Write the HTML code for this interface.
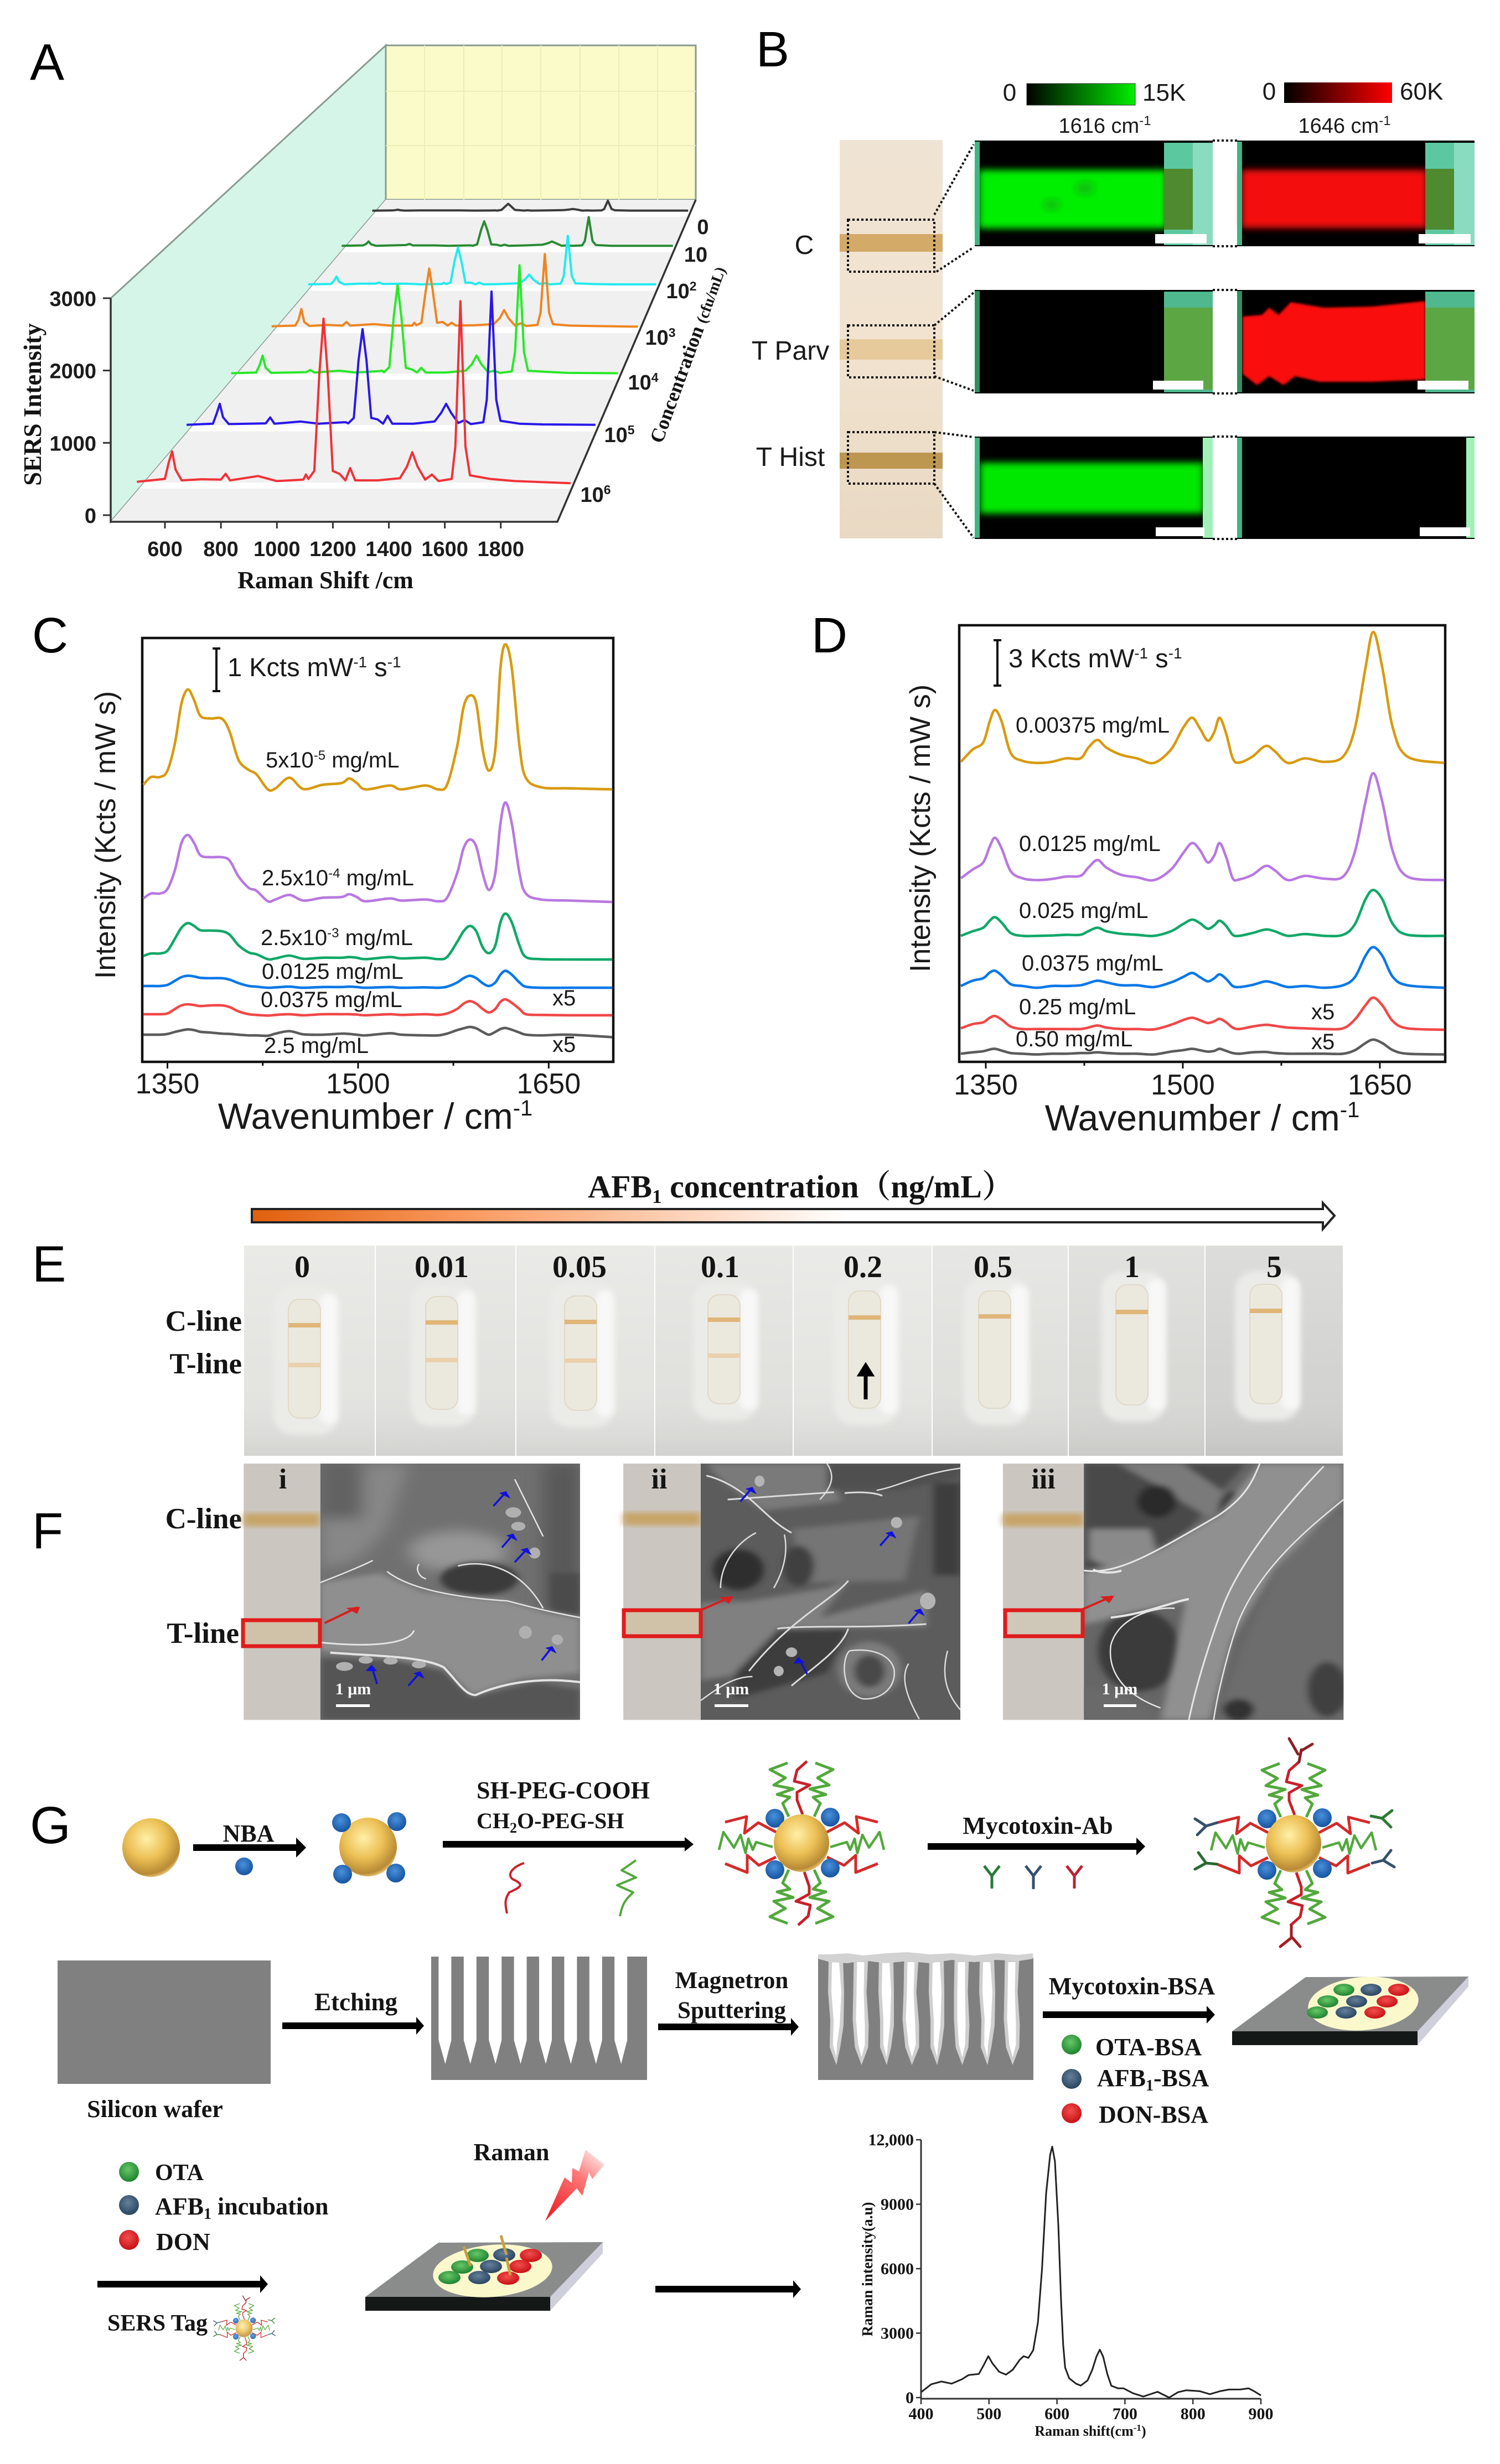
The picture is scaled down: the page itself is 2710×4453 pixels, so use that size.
<!DOCTYPE html>
<html lang="en">
<head>
<meta charset="utf-8">
<title>SERS lateral flow assay composite figure</title>
<style>
html,body{margin:0;padding:0;background:#fff;}
svg{display:block;}
.s{font-family:"Liberation Sans",Arial,sans-serif;fill:#1a1a1a;}
.sb{font-family:"Liberation Sans",Arial,sans-serif;font-weight:bold;fill:#1c1c1c;}
.r{font-family:"Liberation Serif","Noto Serif CJK SC",serif;font-weight:bold;fill:#141414;}
.let{font-family:"Liberation Sans",Arial,sans-serif;fill:#000;}
</style>
</head>
<body>
<svg id="fig" xmlns="http://www.w3.org/2000/svg" width="2710" height="4453" viewBox="0 0 2710 4453">
<defs>
  <filter id="b2" x="-20%" y="-20%" width="140%" height="140%"><feGaussianBlur stdDeviation="2"/></filter>
  <filter id="b5" x="-30%" y="-20%" width="160%" height="140%"><feGaussianBlur stdDeviation="5"/></filter>
  <filter id="b6" x="-20%" y="-30%" width="140%" height="160%"><feGaussianBlur stdDeviation="6"/></filter>
  <filter id="f1" x="-20%" y="-20%" width="140%" height="140%"><feGaussianBlur stdDeviation="5 14"/></filter>
  <filter id="f2" x="-20%" y="-20%" width="140%" height="140%"><feGaussianBlur stdDeviation="12 34"/></filter>
  <linearGradient id="gbar"><stop offset="0" stop-color="#000"/><stop offset="1" stop-color="#00f000"/></linearGradient>
  <linearGradient id="rbar"><stop offset="0" stop-color="#000"/><stop offset="1" stop-color="#ff0000"/></linearGradient>
  <linearGradient id="stripB" x1="0" y1="0" x2="0" y2="1"><stop offset="0" stop-color="#efe3d3"/><stop offset=".5" stop-color="#f1e3d0"/><stop offset="1" stop-color="#e9d9c3"/></linearGradient>
  <linearGradient id="afb"><stop offset="0" stop-color="#e0600c"/><stop offset=".2" stop-color="#fb9a60"/><stop offset=".55" stop-color="#fff"/><stop offset="1" stop-color="#fff"/></linearGradient>
  <linearGradient id="tileShade" x1="0" y1="0" x2="0" y2="1"><stop offset="0" stop-color="#fff" stop-opacity=".22"/><stop offset=".6" stop-color="#fff" stop-opacity="0"/><stop offset="1" stop-color="#000" stop-opacity=".07"/></linearGradient>
  <linearGradient id="bolt" x1=".8" y1="0" x2=".1" y2="1"><stop offset="0" stop-color="#fde2e2"/><stop offset=".35" stop-color="#f77"/><stop offset="1" stop-color="#ea1c24"/></linearGradient>
  <radialGradient id="gold" cx=".42" cy=".35" r=".68"><stop offset="0" stop-color="#fff0a8"/><stop offset=".5" stop-color="#ecc055"/><stop offset=".88" stop-color="#b88a35"/><stop offset="1" stop-color="#f0cf80"/></radialGradient>
  <radialGradient id="dblue" cx=".45" cy=".38" r=".65"><stop offset="0" stop-color="#4a90dc"/><stop offset="1" stop-color="#12509c"/></radialGradient>
  <radialGradient id="dgreen" cx=".45" cy=".38" r=".65"><stop offset="0" stop-color="#68c868"/><stop offset="1" stop-color="#1a7f2c"/></radialGradient>
  <radialGradient id="dnavy" cx=".45" cy=".38" r=".65"><stop offset="0" stop-color="#64809c"/><stop offset="1" stop-color="#26425c"/></radialGradient>
  <radialGradient id="dred" cx=".45" cy=".38" r=".65"><stop offset="0" stop-color="#f05050"/><stop offset="1" stop-color="#c80c10"/></radialGradient>
  <clipPath id="semI"><rect x="116" y="45" width="366" height="1390"/></clipPath>
  <clipPath id="semII"><rect x="652" y="45" width="366" height="1390"/></clipPath>
  <clipPath id="semIII"><rect x="1192" y="45" width="366" height="1390"/></clipPath>

  <g id="arm-v">
    <path d="M-25-145L-57-133-29-118-50-105-15-98-44-88-21-83-34-72-23-48" fill="none" stroke="#52a83c" stroke-width="5" stroke-linejoin="round"/>
  </g>
  <g id="arm-h">
    <path d="M-46-20L-78-37-103-18-99-48-138-38" fill="none" stroke="#d42a2a" stroke-width="5" stroke-linejoin="round"/>
    <path d="M-46 25L-77 40-98 22-98 53-138 37" fill="none" stroke="#d42a2a" stroke-width="5" stroke-linejoin="round"/>
    <path d="M-52 7L-82-2-88 12-96-8-101 18-110-15-122 8-141-20-149 12" fill="none" stroke="#52a83c" stroke-width="4.5" stroke-linejoin="round"/>
  </g>
  <g id="conj">
    <use href="#arm-v"/><use href="#arm-v" transform="scale(-1,1)"/>
    <use href="#arm-v" transform="scale(1,-1)"/><use href="#arm-v" transform="scale(-1,-1)"/>
    <use href="#arm-h"/><use href="#arm-h" transform="scale(-1,1)"/>
    <path d="M2-52L-8-78-8-92 15-105-13-112-8-132 10-148" fill="none" stroke="#c8202a" stroke-width="5" stroke-linejoin="round"/>
    <path d="M5 52L14 78 14 92-10 105 16 112 12 132-6 148" fill="none" stroke="#c8202a" stroke-width="5" stroke-linejoin="round"/>
    <circle cx="-48" cy="-45" r="17" fill="url(#dblue)"/><circle cx="52" cy="-47" r="17" fill="url(#dblue)"/>
    <circle cx="-48" cy="48" r="17" fill="url(#dblue)"/><circle cx="52" cy="45" r="17" fill="url(#dblue)"/>
    <ellipse cx="0" cy="0" rx="50" ry="52" fill="url(#gold)"/>
  </g>
  <g id="antibodies" fill="none" stroke-width="5" stroke-linecap="round">
    <path d="M10-148L14-170M8-162L-8-190M14-168L34-180" stroke="#8a1f24"/>
    <path d="M-4 148L-4 170M-4 170L-24 186M-2 170L12 186" stroke="#a51c22"/>
    <path d="M-138-38L-158-32M-158-32L-178-45M-158-32L-174-16" stroke="#34506e"/>
    <path d="M-138 37L-158 35M-158 35L-172 16M-158 35L-178 46" stroke="#2a6a30"/>
    <path d="M140-50L160-46M160-46L178-60M160-46L176-30" stroke="#2a7a30"/>
    <path d="M142 35L162 30M162 30L176 12M162 30L182 42" stroke="#34506e"/>
  </g>
</defs>
<rect width="2710" height="4453" fill="#fff"/>

<!-- PANEL A -->
<g id="panelA">
  <text class="let" x="54" y="144" font-size="93">A</text>
  <polygon points="697,82 697,361 200,943 200,539" fill="#d4f5e7" stroke="#8a9a92" stroke-width="3"/>
  <rect x="697" y="82" width="560" height="279" fill="#fbfbc9" stroke="#8a9a92" stroke-width="3"/>
  <path d="M767 82V361M838 82V361M907 82V361M977 82V361M1048 82V361M1118 82V361M1188 82V361M697 165H1257M697 263H1257" stroke="#ecedb8" stroke-width="2" fill="none"/>
  <polygon points="697,361 1257,361 1007,943 200,943" fill="#f0f0f0"/>
  <g id="aBands"></g>
  <g id="aSeries"></g>
  <path d="M200 539V943H1007L1257 361" fill="none" stroke="#333" stroke-width="3.5"/>
  <g id="aAxes"></g>
  <text class="r" x="588" y="1063" font-size="44" text-anchor="middle">Raman Shift /cm</text>
  <text class="r" transform="translate(74,731) rotate(-90)" font-size="45" text-anchor="middle">SERS Intensity</text>
  <text class="r" transform="translate(1196,803) rotate(-70)" font-size="36">Concentration <tspan font-size="28">(cfu/mL)</tspan></text>
  <g class="sb" font-size="38" text-anchor="middle">
    <text class="sb" x="1270" y="423">0</text>
    <text class="sb" x="1257" y="473">10</text>
    <text class="sb" x="1231" y="539">10<tspan font-size="23" dy="-14">2</tspan></text>
    <text class="sb" x="1193" y="623">10<tspan font-size="23" dy="-14">3</tspan></text>
    <text class="sb" x="1162" y="704">10<tspan font-size="23" dy="-14">4</tspan></text>
    <text class="sb" x="1119" y="799">10<tspan font-size="23" dy="-14">5</tspan></text>
    <text class="sb" x="1076" y="907">10<tspan font-size="23" dy="-14">6</tspan></text>
  </g>
</g>

<!-- PANEL B -->
<g id="panelB">
  <text class="let" x="1366" y="120" font-size="90">B</text>
  <text class="s" x="1824" y="182" font-size="44" text-anchor="middle">0</text>
  <rect x="1855" y="151" width="196" height="39" fill="url(#gbar)" stroke="#333" stroke-width="1"/>
  <text class="s" x="2064" y="182" font-size="44">15K</text>
  <text class="s" x="2293" y="180" font-size="44" text-anchor="middle">0</text>
  <rect x="2320" y="149" width="195" height="37" fill="url(#rbar)"/>
  <text class="s" x="2529" y="180" font-size="44">60K</text>
  <text class="s" x="1996" y="240" font-size="38" text-anchor="middle">1616 cm<tspan font-size="24" dy="-14">-1</tspan></text>
  <text class="s" x="2429" y="240" font-size="38" text-anchor="middle">1646 cm<tspan font-size="24" dy="-14">-1</tspan></text>

  <rect x="1517" y="253" width="186" height="720" fill="url(#stripB)"/>
  <rect x="1517" y="423" width="186" height="32" fill="#d4aa68"/>
  <rect x="1517" y="613" width="186" height="37" fill="#e6ca9c"/>
  <rect x="1517" y="818" width="186" height="29" fill="#bd9650"/>
  <g fill="none" stroke="#111" stroke-width="4" stroke-dasharray="4 4">
    <rect x="1532" y="397" width="156" height="94"/>
    <rect x="1532" y="588" width="156" height="94"/>
    <rect x="1532" y="781" width="156" height="93"/>
    <path d="M1688 388L1759 261M1692 491L1759 447M1688 588L1759 529M1688 680L1759 706M1688 781L1759 790M1688 874L1759 972M2191 254H2235M2191 445H2235M2191 524H2235M2191 711H2235M2191 789H2235M2191 974H2235"/>
  </g>
  <text class="s" x="1453" y="459" font-size="48" text-anchor="middle">C</text>
  <text class="s" x="1428" y="650" font-size="48" text-anchor="middle">T Parv</text>
  <text class="s" x="1428" y="842" font-size="48" text-anchor="middle">T Hist</text>

  <g>
    <rect x="1761" y="254" width="430" height="191" fill="#000"/>
    <rect x="1768" y="307" width="340" height="106" fill="#05ee05" filter="url(#b6)"/>
    <ellipse cx="1960" cy="340" rx="18" ry="12" fill="#0cc40c" filter="url(#b6)"/>
    <ellipse cx="1900" cy="370" rx="16" ry="10" fill="#0cc40c" filter="url(#b6)"/>
    <rect x="1761" y="256" width="9" height="187" fill="#3fb584"/>
    <rect x="2103" y="258" width="88" height="185" fill="#5cc8a0"/>
    <rect x="2155" y="258" width="36" height="185" fill="#8adcc0"/>
    <rect x="2103" y="305" width="52" height="110" fill="#4f8a30"/>
    <rect x="2087" y="423" width="93" height="17" fill="#fff"/>
  </g>
  <g>
    <rect x="2235" y="254" width="429" height="191" fill="#000"/>
    <rect x="2243" y="307" width="335" height="105" fill="#f40a0a" filter="url(#b6)"/>
    <rect x="2235" y="256" width="9" height="187" fill="#3fb584"/>
    <rect x="2575" y="258" width="89" height="185" fill="#5cc8a0"/>
    <rect x="2627" y="258" width="37" height="185" fill="#8adcc0"/>
    <rect x="2575" y="305" width="52" height="110" fill="#4f8a30"/>
    <rect x="2563" y="423" width="94" height="17" fill="#fff"/>
  </g>
  <g>
    <rect x="1761" y="524" width="430" height="187" fill="#000"/>
    <rect x="1761" y="526" width="9" height="183" fill="#2f8f60"/>
    <rect x="2103" y="527" width="88" height="182" fill="#4fb88e"/>
    <rect x="2103" y="556" width="88" height="148" fill="#5da644"/>
    <rect x="2083" y="688" width="91" height="16" fill="#fff"/>
  </g>
  <g>
    <rect x="2235" y="524" width="429" height="187" fill="#000"/>
    <polygon points="2245,572 2280,569 2293,556 2310,569 2332,546 2392,556 2479,554 2575,544 2575,686 2479,690 2384,690 2340,680 2319,696 2293,680 2271,696 2245,676" fill="#fa0808" filter="url(#b2)"/>
    <rect x="2235" y="526" width="9" height="183" fill="#2f8f60"/>
    <rect x="2575" y="527" width="89" height="182" fill="#4fb88e"/>
    <rect x="2575" y="556" width="89" height="148" fill="#5da644"/>
    <rect x="2561" y="688" width="92" height="16" fill="#fff"/>
  </g>
  <g>
    <rect x="1761" y="789" width="430" height="185" fill="#000"/>
    <rect x="1770" y="836" width="404" height="92" fill="#06e806" filter="url(#b6)"/>
    <rect x="1761" y="791" width="9" height="181" fill="#3fb584"/>
    <rect x="2173" y="791" width="18" height="181" fill="#a0f0b8"/>
    <rect x="2088" y="953" width="88" height="16" fill="#fff"/>
  </g>
  <g>
    <rect x="2235" y="789" width="429" height="185" fill="#000"/>
    <rect x="2235" y="791" width="9" height="181" fill="#3fb584"/>
    <rect x="2649" y="791" width="15" height="181" fill="#a0f0b8"/>
    <rect x="2565" y="953" width="91" height="16" fill="#fff"/>
  </g>
</g>

<!-- PANEL C -->
<g id="panelC">
  <text class="let" x="58" y="1179" font-size="90">C</text>
  <rect x="257" y="1153" width="851" height="766" fill="#fff" stroke="#111" stroke-width="4.5"/>
  <g id="cSeries"></g>
  <g id="cAxis"></g>
  <path d="M391 1172V1249M384 1172H398M384 1249H398" stroke="#111" stroke-width="4" fill="none"/>
  <text class="s" x="411" y="1222" font-size="47">1 Kcts mW<tspan font-size="28" dy="-16">-1</tspan><tspan dy="16"> s</tspan><tspan font-size="28" dy="-16">-1</tspan></text>
  <text class="s" x="678" y="2040" font-size="66" text-anchor="middle">Wavenumber / cm<tspan font-size="40" dy="-24">-1</tspan></text>
  <text class="s" transform="translate(208,1509) rotate(-90)" font-size="52" text-anchor="middle">Intensity (Kcts / mW s)</text>
  <g font-size="40">
    <text class="s" x="480" y="1387">5x10<tspan font-size="24" dy="-14">-5</tspan><tspan dy="14"> mg/mL</tspan></text>
    <text class="s" x="473" y="1600">2.5x10<tspan font-size="24" dy="-14">-4</tspan><tspan dy="14"> mg/mL</tspan></text>
    <text class="s" x="471" y="1708">2.5x10<tspan font-size="24" dy="-14">-3</tspan><tspan dy="14"> mg/mL</tspan></text>
    <text class="s" x="473" y="1769">0.0125 mg/mL</text>
    <text class="s" x="471" y="1820">0.0375 mg/mL</text>
    <text class="s" x="477" y="1903">2.5 mg/mL</text>
    <text class="s" x="998" y="1817">x5</text>
    <text class="s" x="998" y="1901">x5</text>
  </g>
</g>

<!-- PANEL D -->
<g id="panelD">
  <text class="let" x="1466" y="1179" font-size="90">D</text>
  <rect x="1733" y="1130" width="878" height="789" fill="#fff" stroke="#111" stroke-width="4.5"/>
  <g id="dSeries"></g>
  <g id="dAxis"></g>
  <path d="M1802 1157V1239M1795 1157H1809M1795 1239H1809" stroke="#111" stroke-width="4" fill="none"/>
  <text class="s" x="1822" y="1206" font-size="47">3 Kcts mW<tspan font-size="28" dy="-16">-1</tspan><tspan dy="16"> s</tspan><tspan font-size="28" dy="-16">-1</tspan></text>
  <text class="s" x="2172" y="2043" font-size="66" text-anchor="middle">Wavenumber / cm<tspan font-size="40" dy="-24">-1</tspan></text>
  <text class="s" transform="translate(1680,1497) rotate(-90)" font-size="52" text-anchor="middle">Intensity (Kcts / mW s)</text>
  <g font-size="40">
    <text class="s" x="1835" y="1324">0.00375 mg/mL</text>
    <text class="s" x="1841" y="1538">0.0125 mg/mL</text>
    <text class="s" x="1841" y="1659">0.025 mg/mL</text>
    <text class="s" x="1846" y="1754">0.0375 mg/mL</text>
    <text class="s" x="1841" y="1833">0.25 mg/mL</text>
    <text class="s" x="1835" y="1891">0.50 mg/mL</text>
    <text class="s" x="2369" y="1842">x5</text>
    <text class="s" x="2369" y="1896">x5</text>
  </g>
</g>

<!-- PANEL E -->
<g id="panelE">
  <text class="r" x="1447" y="2164" font-size="58" text-anchor="middle">AFB<tspan font-size="35" dy="10">1</tspan><tspan dy="-10"> concentration（ng/mL）</tspan></text>
  <path d="M455 2185H2390V2174L2411 2197 2390 2221V2209H455Z" fill="url(#afb)" stroke="#222" stroke-width="4"/>
  <text class="let" x="58" y="2316" font-size="92">E</text>
  <g id="eTiles"></g>
  <path d="M1564 2529V2480M1554 2484L1564 2468 1574 2484Z" stroke="#000" stroke-width="7" fill="#000"/>
  <g font-size="56" text-anchor="middle">
    <text class="r" x="546" y="2308">0</text>
    <text class="r" x="798" y="2308">0.01</text>
    <text class="r" x="1047" y="2308">0.05</text>
    <text class="r" x="1301" y="2308">0.1</text>
    <text class="r" x="1559" y="2308">0.2</text>
    <text class="r" x="1794" y="2308">0.5</text>
    <text class="r" x="2045" y="2308">1</text>
    <text class="r" x="2302" y="2308">5</text>
  </g>
  <text class="r" x="437" y="2405" font-size="53" text-anchor="end">C-line</text>
  <text class="r" x="437" y="2482" font-size="53" text-anchor="end">T-line</text>
</g>

<!-- PANEL F -->
<g id="panelF">
  <text class="let" x="58" y="2798" font-size="92">F</text>
  <text class="r" x="437" y="2762" font-size="53" text-anchor="end">C-line</text>
  <text class="r" x="432" y="2969" font-size="53" text-anchor="end">T-line</text>
  <g transform="translate(430,2630) scale(1.282,.3333)">
    <g>
      <rect x="8" y="45" width="108" height="1390" fill="#cbc7c0"/>
      <rect x="8" y="315" width="108" height="70" fill="#c8a468" filter="url(#f1)"/>
      <rect x="8" y="890" width="108" height="145" fill="#d0c2a8"/>
    </g>
    <g>
      <rect x="543" y="45" width="109" height="1390" fill="#cbc7c0"/>
      <rect x="543" y="310" width="109" height="70" fill="#c8a468" filter="url(#f1)"/>
      <rect x="543" y="835" width="109" height="150" fill="#d0c2a8"/>
    </g>
    <g>
      <rect x="1078" y="45" width="114" height="1390" fill="#cbc7c0"/>
      <rect x="1078" y="315" width="114" height="70" fill="#c8a468" filter="url(#f1)"/>
      <rect x="1078" y="835" width="114" height="150" fill="#cfc8b8"/>
    </g>

    <g clip-path="url(#semI)">
      <rect x="116" y="45" width="366" height="1390" fill="#707070"/>
      <g filter="url(#f2)">
        <polygon points="116,45 240,45 210,400 170,560 116,620" fill="#878787"/>
        <ellipse cx="310" cy="520" rx="70" ry="110" fill="#979797"/>
        <rect x="430" y="45" width="52" height="800" fill="#585858"/>
        <rect x="116" y="45" width="60" height="300" fill="#626262"/>
      </g>
      <g filter="url(#f1)">
        <polygon points="116,690 200,640 260,740 380,790 430,850 482,880 482,1180 400,1210 330,1300 290,1150 220,1100 116,1060" fill="#8f8f8f"/>
        <polygon points="116,1100 220,1110 290,1170 330,1310 420,1230 482,1270 482,1435 116,1435" fill="#555"/>
        <ellipse cx="340" cy="670" rx="55" ry="90" fill="#3a3a3a"/>
        <polygon points="440,640 482,640 482,880 440,840" fill="#4c4c4c"/>
      </g>
      <g fill="none" stroke="#e4e4e4">
        <path vector-effect="non-scaling-stroke" stroke-width="3" d="M116 1015C180 1040 240 1030 248 950"/>
        <path vector-effect="non-scaling-stroke" stroke-width="4" d="M130 1070C200 1090 260 1090 290 1150 310 1230 320 1300 335 1300 370 1240 420 1200 482 1230"/>
        <path vector-effect="non-scaling-stroke" stroke-width="2.5" d="M116 690C150 640 180 590 190 570M210 630C240 720 300 770 380 790 420 830 440 850 482 880"/>
        <path vector-effect="non-scaling-stroke" stroke-width="2.5" d="M390 130L430 440M310 600C350 560 400 620 430 830M255 590C250 620 255 660 265 670"/>
      </g>
      <g fill="#b0b0b0">
        <ellipse cx="388" cy="310" rx="11" ry="28"/><ellipse cx="395" cy="385" rx="10" ry="24"/><ellipse cx="418" cy="530" rx="8" ry="30"/>
        <ellipse cx="405" cy="960" rx="9" ry="35"/><ellipse cx="450" cy="1000" rx="8" ry="28"/>
        <ellipse cx="150" cy="1145" rx="12" ry="24"/><ellipse cx="180" cy="1110" rx="10" ry="20"/><ellipse cx="215" cy="1115" rx="10" ry="20"/><ellipse cx="255" cy="1135" rx="10" ry="20"/>
      </g>
    </g>

    <g clip-path="url(#semII)">
      <rect x="652" y="45" width="366" height="1390" fill="#5c5c5c"/>
      <g filter="url(#f1)">
        <polygon points="660,45 830,45 850,250 740,300 680,130" fill="#7a7a7a"/>
        <polygon points="830,45 1018,45 1018,120 930,190 830,190" fill="#505050"/>
        <polygon points="780,400 960,330 940,680 800,690" fill="#747474"/>
        <ellipse cx="705" cy="620" rx="36" ry="110" fill="#2f2f2f"/>
        <ellipse cx="790" cy="600" rx="22" ry="110" fill="#3f3f3f"/>
        <rect x="980" y="150" width="38" height="500" fill="#3c3c3c"/>
        <polygon points="652,800 720,790 830,720 860,680 820,880 970,730 970,930 760,940 720,1180 652,1220" fill="#808080"/>
        <polygon points="760,950 860,940 830,1180 700,1320 700,1180" fill="#3d3d3d"/>
        <ellipse cx="890" cy="1160" rx="45" ry="150" fill="#7c7c7c"/>
        <ellipse cx="890" cy="1170" rx="22" ry="90" fill="#4a4a4a"/>
      </g>
      <g fill="none" stroke="#dcdcdc">
        <path vector-effect="non-scaling-stroke" stroke-width="3" d="M660 110C720 170 740 340 780 420M690 240L840 200M855 205C880 195 900 205 908 220"/>
        <path vector-effect="non-scaling-stroke" stroke-width="3" d="M760 940C800 920 880 940 970 915M860 680C840 780 780 880 720 1170M860 940C850 1060 800 1180 780 1250"/>
        <path vector-effect="non-scaling-stroke" stroke-width="2.5" d="M1018 70C960 100 930 170 900 190M680 720C680 600 700 480 730 420M770 430C775 520 770 620 755 720M830 45C840 100 840 160 820 240"/>
        <path vector-effect="non-scaling-stroke" stroke-width="2.5" d="M862 1060C900 1040 925 1100 925 1180 925 1280 900 1330 880 1320 850 1290 850 1100 862 1060M945 1130C930 1220 950 1360 960 1430M1000 1060C990 1200 1000 1300 1018 1380M652 1330C680 1250 700 1200 725 1200"/>
      </g>
      <g fill="#b4b4b4">
        <ellipse cx="735" cy="140" rx="7" ry="30"/><ellipse cx="928" cy="365" rx="8" ry="30"/>
        <ellipse cx="972" cy="790" rx="11" ry="45"/><ellipse cx="780" cy="1068" rx="8" ry="26"/><ellipse cx="762" cy="1170" rx="7" ry="28"/>
      </g>
    </g>

    <g clip-path="url(#semIII)">
      <rect x="1192" y="45" width="366" height="1390" fill="#666"/>
      <g filter="url(#f1)">
        <polygon points="1192,45 1420,45 1340,400 1250,640 1192,640" fill="#4a4a4a"/>
        <polygon points="1240,45 1330,45 1400,230 1370,340 1330,250 1290,150" fill="#7a7a7a"/>
        <polygon points="1200,400 1285,400 1295,530 1235,620 1200,560" fill="#8a8a8a"/>
        <ellipse cx="1295" cy="250" rx="28" ry="90" fill="#2c2c2c"/>
        <ellipse cx="1400" cy="290" rx="18" ry="90" fill="#333"/>
        <polygon points="1480,500 1558,300 1558,1435 1380,1435 1420,1000" fill="#6d6d6d"/>
        <ellipse cx="1270" cy="1060" rx="58" ry="220" fill="#3a3a3a"/>
        <polygon points="1192,1250 1240,1300 1300,1435 1192,1435" fill="#6a6a6a"/>
        <ellipse cx="1535" cy="1270" rx="28" ry="150" fill="#404040"/>
        <ellipse cx="1410" cy="1380" rx="22" ry="60" fill="#333"/>
      </g>
      <polygon points="1440,45 1558,45 1558,240 1460,620 1400,1000 1370,1435 1300,1435 1320,1100 1335,790 1230,880 1192,920 1192,630 1290,530 1380,330" fill="#909090" filter="url(#f1)"/>
      <g fill="none" stroke="#e6e6e6">
        <path vector-effect="non-scaling-stroke" stroke-width="3" d="M1192 625C1240 650 1290 530 1380 330 1420 230 1430 140 1440 45"/>
        <path vector-effect="non-scaling-stroke" stroke-width="3" d="M1530 60C1490 220 1420 520 1390 800 1370 1000 1350 1250 1340 1435"/>
        <path vector-effect="non-scaling-stroke" stroke-width="2.5" d="M1558 240C1500 420 1440 620 1410 900 1395 1060 1380 1300 1375 1435"/>
        <path vector-effect="non-scaling-stroke" stroke-width="2.5" d="M1320 830C1290 820 1240 880 1230 1030 1225 1180 1250 1300 1300 1370"/>
        <path vector-effect="non-scaling-stroke" stroke-width="4" d="M1205 620C1215 640 1235 640 1245 625M1340 780C1320 790 1280 860 1230 880"/>
      </g>
    </g>

    <g fill="none" stroke="#1010e0">
      <path vector-effect="non-scaling-stroke" stroke-width="3.5" d="M360 275L378 198M372 500L388 428M390 580L408 505M428 1112L443 1038M196 1240L188 1140M240 1250L257 1175M708 250L725 175M905 490L922 415M945 912L962 835M802 1187L790 1098"/>
    </g>
    <g fill="none" stroke="#d81e1e">
      <path vector-effect="non-scaling-stroke" stroke-width="4" d="M122 910L168 825M652 840L695 768M1190 835L1232 765"/>
    </g>
    <g fill="#d81e1e">
      <polygon points="172,822 152,828 168,860"/>
      <polygon points="698,765 678,770 692,805"/>
      <polygon points="1235,762 1215,766 1228,802"/>
    </g>
    <g fill="#1010e0">
      <polygon points="378,195 368,205 384,235"/><polygon points="388,425 378,435 394,465"/><polygon points="408,502 398,512 414,542"/>
      <polygon points="443,1035 433,1045 449,1075"/><polygon points="188,1135 180,1170 196,1170"/><polygon points="257,1172 247,1182 263,1212"/>
      <polygon points="725,172 715,182 731,212"/><polygon points="922,412 912,422 928,452"/><polygon points="962,832 952,842 968,872"/><polygon points="789,1095 783,1130 799,1125"/>
    </g>
  </g>
  <g fill="none" stroke="#e01c1c" stroke-width="7">
    <rect x="439" y="2928" width="139" height="47"/>
    <rect x="1127" y="2910" width="139" height="47"/>
    <rect x="1816" y="2910" width="140" height="47"/>
  </g>
  <g font-size="52" text-anchor="middle">
    <text class="r" x="511" y="2690">i</text>
    <text class="r" x="1191" y="2690">ii</text>
    <text class="r" x="1885" y="2690">iii</text>
  </g>
  <g font-size="30" text-anchor="middle">
    <text class="r" style="fill:#fff" x="638" y="3062">1 μm</text>
    <text class="r" style="fill:#fff" x="1321" y="3062">1 μm</text>
    <text class="r" style="fill:#fff" x="2023" y="3062">1 μm</text>
  </g>
  <g fill="#fff">
    <rect x="607" y="3080" width="61" height="5"/>
    <rect x="1291" y="3080" width="61" height="5"/>
    <rect x="1994" y="3080" width="59" height="5"/>
  </g>
</g>

<!-- PANEL G -->
<g id="panelG">
  <text class="let" x="54" y="3331" font-size="95">G</text>
  <ellipse cx="273" cy="3339" rx="52" ry="53" fill="url(#gold)"/>
  <path d="M349 3333H535V3321L553 3339 535 3357V3345H349Z" fill="#000"/>
  <text class="r" x="449" y="3328" font-size="44" text-anchor="middle">NBA</text>
  <circle cx="441" cy="3373" r="16" fill="url(#dblue)"/>
  <g>
    <ellipse cx="665" cy="3338" rx="52" ry="53" fill="url(#gold)"/>
    <circle cx="617" cy="3294" r="17" fill="url(#dblue)"/><circle cx="717" cy="3292" r="17" fill="url(#dblue)"/>
    <circle cx="619" cy="3387" r="17" fill="url(#dblue)"/><circle cx="715" cy="3385" r="17" fill="url(#dblue)"/>
  </g>
  <text class="r" x="861" y="3250" font-size="44">SH-PEG-COOH</text>
  <text class="r" x="861" y="3304" font-size="40">CH<tspan font-size="26" dy="8">2</tspan><tspan dy="-8">O-PEG-SH</tspan></text>
  <path d="M800 3327H1237V3320L1253 3333 1237 3346V3339H800Z" fill="#000"/>
  <path d="M916 3458C912 3440 912 3432 920 3420 942 3410 948 3406 926 3396 914 3386 930 3372 947 3367" fill="none" stroke="#cc2028" stroke-width="4"/>
  <path d="M1120 3463C1124 3445 1126 3436 1144 3420L1115 3407 1149 3393 1123 3380 1149 3362" fill="none" stroke="#52a83c" stroke-width="4" stroke-linejoin="round"/>
  <use href="#conj" x="1448" y="3331"/>
  <path d="M1676 3331H2053V3321L2069 3337 2053 3353V3343H1676Z" fill="#000"/>
  <text class="r" x="1875" y="3314" font-size="44" text-anchor="middle">Mycotoxin-Ab</text>
  <g fill="none" stroke-width="5">
    <path d="M1792 3413V3390L1778 3372M1792 3390L1806 3372" stroke="#2a7a3a"/>
    <path d="M1867 3414V3390L1853 3372M1867 3390L1881 3372" stroke="#34506e"/>
    <path d="M1941 3413V3390L1927 3372M1941 3390L1955 3372" stroke="#c02030"/>
  </g>
  <g transform="translate(2337,3332)">
    <use href="#conj"/><use href="#antibodies"/>
  </g>

  <rect x="104" y="3543" width="385" height="223" fill="#808080"/>
  <text class="r" x="280" y="3826" font-size="44" text-anchor="middle">Silicon wafer</text>
  <path d="M510 3655H752V3645L766 3661 752 3677V3667H510Z" fill="#000"/>
  <text class="r" x="643" y="3633" font-size="45" text-anchor="middle">Etching</text>
  <g id="etched">
    <rect x="779" y="3536" width="390" height="223" fill="#808080"/>
  </g>
  <path d="M1189 3657H1429V3647L1443 3663 1429 3679V3669H1189Z" fill="#000"/>
  <text class="r" x="1322" y="3593" font-size="43" text-anchor="middle">Magnetron</text>
  <text class="r" x="1322" y="3647" font-size="43" text-anchor="middle">Sputtering</text>
  <g id="sputtered">
    <rect x="1478" y="3538" width="389" height="221" fill="#808080"/>
  </g>
  <path d="M1884 3635H2180V3625L2195 3641 2180 3657V3647H1884Z" fill="#000"/>
  <text class="r" x="2045" y="3604" font-size="44" text-anchor="middle">Mycotoxin-BSA</text>

  <g>
    <polygon points="2359,3573 2653,3572 2561,3696 2561,3671 2226,3671" fill="#8a8c8c"/>
    <polygon points="2653,3572 2653,3590 2561,3696 2561,3671" fill="#cfcfdc"/>
    <rect x="2226" y="3671" width="335" height="25" fill="#141817"/>
    <ellipse cx="2463" cy="3621" rx="100" ry="48" fill="#fbf8cc" transform="rotate(-5 2463 3621)"/>
    <ellipse cx="2428" cy="3596" rx="19" ry="11" fill="url(#dgreen)"/><ellipse cx="2477" cy="3596" rx="19" ry="11" fill="url(#dnavy)"/><ellipse cx="2527" cy="3596" rx="19" ry="11" fill="url(#dred)"/>
    <ellipse cx="2399" cy="3617" rx="19" ry="11" fill="url(#dgreen)"/><ellipse cx="2451" cy="3617" rx="19" ry="11" fill="url(#dnavy)"/><ellipse cx="2506" cy="3617" rx="19" ry="11" fill="url(#dred)"/>
    <ellipse cx="2380" cy="3637" rx="19" ry="11" fill="url(#dgreen)"/><ellipse cx="2432" cy="3637" rx="19" ry="11" fill="url(#dnavy)"/><ellipse cx="2484" cy="3637" rx="19" ry="11" fill="url(#dred)"/>
  </g>
  <g>
    <circle cx="1936" cy="3695" r="18" fill="url(#dgreen)"/><circle cx="1936" cy="3757" r="18" fill="url(#dnavy)"/><circle cx="1936" cy="3819" r="18" fill="url(#dred)"/>
    <text class="r" x="1979" y="3714" font-size="44">OTA-BSA</text>
    <text class="r" x="1982" y="3770" font-size="44">AFB<tspan font-size="28" dy="8">1</tspan><tspan dy="-8">-BSA</tspan></text>
    <text class="r" x="1985" y="3836" font-size="44">DON-BSA</text>
  </g>

  <g>
    <circle cx="233" cy="3925" r="18" fill="url(#dgreen)"/><circle cx="233" cy="3985" r="18" fill="url(#dnavy)"/><circle cx="233" cy="4048" r="18" fill="url(#dred)"/>
    <text class="r" x="280" y="3940" font-size="42">OTA</text>
    <text class="r" x="280" y="4002" font-size="44">AFB<tspan font-size="28" dy="8">1</tspan><tspan dy="-8"> incubation</tspan></text>
    <text class="r" x="282" y="4066" font-size="44">DON</text>
  </g>
  <path d="M176 4122H470V4112L484 4128 470 4144V4134H176Z" fill="#000"/>
  <text class="r" x="194" y="4212" font-size="42">SERS Tag</text>
  <g transform="translate(441,4208) scale(.31)" opacity=".85"><use href="#conj"/><use href="#antibodies"/></g>

  <text class="r" x="924" y="3904" font-size="44" text-anchor="middle">Raman</text>
  <polygon points="1058,3885 1092,3912 1070,3938 1064,3926 1052,3968 1042,3955 985,4014 1020,3935 1033,3945 1034,3918 1046,3924" fill="url(#bolt)"/>
  <g>
    <polygon points="792,4053 1089,4052 994,4176 994,4151 660,4151" fill="#8a8c8c"/>
    <polygon points="1089,4052 1089,4072 994,4176 994,4151" fill="#cfcfdc"/>
    <rect x="660" y="4151" width="334" height="25" fill="#141817"/>
    <ellipse cx="890" cy="4104" rx="108" ry="47" fill="#fbf8cc" transform="rotate(-5 890 4104)"/>
    <ellipse cx="863" cy="4076" rx="20" ry="12" fill="url(#dgreen)"/><ellipse cx="911" cy="4075" rx="20" ry="12" fill="url(#dnavy)"/><ellipse cx="959" cy="4076" rx="20" ry="12" fill="url(#dred)"/>
    <ellipse cx="835" cy="4097" rx="20" ry="12" fill="url(#dgreen)"/><ellipse cx="887" cy="4096" rx="20" ry="12" fill="url(#dnavy)"/><ellipse cx="940" cy="4096" rx="20" ry="12" fill="url(#dred)"/>
    <ellipse cx="812" cy="4116" rx="20" ry="12" fill="url(#dgreen)"/><ellipse cx="866" cy="4116" rx="20" ry="12" fill="url(#dnavy)"/><ellipse cx="918" cy="4117" rx="20" ry="12" fill="url(#dred)"/>
    <path d="M905 4040L915 4075M838 4060L850 4095M915 4080L922 4112" stroke="#c8a040" stroke-width="5" fill="none"/>
  </g>
  <path d="M1184 4131H1433V4121L1447 4137 1433 4153V4143H1184Z" fill="#000"/>
  <g id="gChart"></g>
  <text class="r" x="1970" y="4402" font-size="26" text-anchor="middle">Raman shift(cm<tspan font-size="17" dy="-9">-1</tspan><tspan dy="9">)</tspan></text>
  <text class="r" transform="translate(1576,4101) rotate(-90)" font-size="27" text-anchor="middle">Raman intensity(a.u)</text>
</g>
</svg>

<script>
// ---------- Panel A data ----------
const aWavenumbers = [500,600,614,626,638,660,732,800,817,833,933,1000,1095,1104,1113,1134,1152,1167,1182,1200,1224,1245,1262,1280,1360,1440,1465,1484,1503,1530,1554,1578,1625,1638,1656,1674,1690,1762,1850,2050];
const aConc1e6 = [10,50,280,430,180,30,45,40,120,30,90,20,40,110,50,160,1500,2270,1500,160,120,30,200,30,30,60,220,420,220,40,110,20,50,500,2510,500,100,50,20,-10];
const aConc1e5 = [5,20,160,295,110,15,20,25,107,20,50,20,40,40,25,100,900,1330,900,100,80,20,130,20,20,50,170,295,170,30,70,15,40,350,1850,350,60,20,10,5];
const aConc1e4 = [5,15,120,250,80,10,15,20,50,15,40,15,35,40,20,90,800,1225,800,80,60,15,80,15,15,40,130,250,130,20,40,10,30,300,1500,300,40,25,10,5];
const aConc1e3 = [10,20,100,250,70,15,30,20,70,20,40,20,20,60,25,60,500,810,500,60,70,20,60,20,25,40,120,235,120,20,50,15,30,200,1010,200,40,20,15,5];
const aConc100 = [5,10,50,113,40,5,15,15,30,10,15,5,10,25,10,30,330,516,330,30,30,5,30,5,10,20,70,140,70,10,20,5,15,120,677,120,20,10,5,5];
const aConc10 = [5,10,30,65,25,5,10,15,30,10,10,5,10,10,5,25,220,344,220,25,20,5,20,5,10,20,40,65,40,5,10,5,10,70,403,70,15,5,5,5];
const aConc0 = [2,5,10,15,8,3,5,5,5,5,5,3,5,5,3,12,60,97,60,12,8,3,8,3,5,10,18,25,18,3,5,3,5,25,140,25,8,3,3,3];
const aYTicks = [0,1000,2000,3000];
const aXTicks = [600,800,1000,1200,1400,1600,1800];

// ---------- Panel C data (intensity in a.u.; scale bar = 120 a.u. = 1 Kcts) ----------
const cWavenumbers = [1331,1337,1344,1350,1356,1361,1366,1371,1376,1384,1393,1399,1406,1414,1420,1429,1435,1446,1457,1472,1487,1493,1499,1506,1525,1534,1553,1563,1570,1578,1583,1588,1593,1598,1603,1608,1612,1616,1621,1627,1632,1644,1666,1700];
const cGold = [785,807,807,825,905,1015,1055,1025,980,973,972,935,855,827,815,772,775,805,773,785,790,803,790,772,783,772,783,772,785,895,1005,1038,1015,885,825,885,1115,1183,1115,895,805,778,775,772];
const cPurple = [463,477,477,490,545,620,643,620,585,580,580,570,525,493,485,455,460,473,457,465,467,475,467,455,463,457,460,455,465,535,605,630,610,535,487,535,675,735,675,535,477,460,457,453];
const cGreen = [300,307,307,315,350,380,393,385,373,372,370,360,330,310,305,291,293,301,292,295,295,297,295,291,297,293,295,291,297,340,370,385,370,325,308,330,395,420,395,330,297,291,290,290];
const cBlue = [215,215,215,218,230,240,244,242,238,237,237,233,223,215,213,210,211,213,210,212,212,213,212,210,212,210,211,210,213,225,237,244,237,223,215,225,247,258,247,225,213,210,210,210];
const cRed = [135,135,135,137,150,160,163,161,158,160,160,155,143,135,133,131,133,135,132,135,135,135,134,132,135,133,135,133,137,150,165,172,165,150,140,150,170,177,167,150,135,133,132,132];
const cGray = [77,77,77,79,85,89,92,90,85,83,80,79,77,75,75,74,80,87,78,77,80,79,77,75,81,77,75,75,80,90,95,99,95,85,77,85,93,96,91,83,77,75,77,70];

// ---------- Panel D data ----------
const dWavenumbers = [1331,1340,1348,1353,1357,1362,1369,1378,1389,1400,1411,1422,1428,1435,1442,1453,1465,1478,1491,1500,1507,1513,1519,1524,1528,1533,1538,1543,1553,1563,1570,1580,1593,1608,1622,1631,1639,1645,1652,1660,1671,1699];
const dGold = [850,885,905,965,997,965,875,853,847,850,860,860,890,912,890,870,860,847,885,945,975,945,910,935,975,930,860,848,865,895,880,847,860,850,865,945,1115,1218,1115,945,865,847];
const dPurple = [520,545,565,610,635,605,540,520,515,518,525,527,550,572,550,530,523,515,545,590,620,600,565,585,620,580,520,517,530,555,543,515,527,519,525,595,735,818,735,595,525,515];
const dGreen = [357,370,380,400,410,395,365,357,357,358,360,360,370,380,370,363,360,357,370,390,403,393,377,387,400,385,360,357,365,375,370,357,362,357,360,390,460,487,460,390,360,357];
const dBlue = [215,230,237,253,258,245,220,215,210,215,215,217,223,230,225,217,217,212,225,240,252,240,228,237,248,235,215,212,218,228,223,212,215,210,217,240,300,325,300,240,217,210];
const dRed = [95,107,112,125,130,120,100,93,93,93,93,93,97,103,97,93,93,92,105,118,125,118,110,115,122,112,97,93,100,105,102,97,95,93,95,120,160,182,160,115,95,91];
const dGray = [23,27,30,35,37,32,25,23,21,23,23,25,25,27,25,23,23,21,29,33,37,33,29,31,37,31,25,23,27,28,25,23,23,23,23,33,53,63,53,33,23,21];

const specTickLabels = [1350,1500,1650];
const specMinorTicks = [1425,1575];

// ---------- Panel G chart data ----------
const gShift = [400,415,430,445,460,470,485,492,499,505,515,525,535,545,551,558,565,572,578,584,590,593,597,602,606,609,612,618,628,635,645,652,658,663,668,674,680,690,698,712,727,748,765,778,790,810,825,840,853,870,882,890,900];
const gIntensity = [250,620,750,650,850,1050,1100,1500,1930,1600,1200,1070,1300,1750,1930,1850,2200,3500,6000,9500,11300,11680,11000,8000,4500,2500,1400,900,650,560,800,1300,1900,2230,1900,1100,550,430,430,200,50,270,0,250,340,300,160,300,375,380,430,300,100];
const gXTicks = [400,500,600,700,800,900];
const gYTicks = [0,3000,6000,9000,12000];
const gYTickLabels = ['0','3000','6000','9000','12,000'];

const NS = 'http://www.w3.org/2000/svg';
function mk(tag, parent){ const e = document.createElementNS(NS, tag); parent.appendChild(e); return e; }
function smooth(pts){
  let d = 'M' + pts[0][0].toFixed(1) + ' ' + pts[0][1].toFixed(1);
  for(let i=0;i<pts.length-1;i++){
    const p0=pts[Math.max(i-1,0)],p1=pts[i],p2=pts[i+1],p3=pts[Math.min(i+2,pts.length-1)];
    const c1x=p1[0]+(p2[0]-p0[0])/6,c1y=p1[1]+(p2[1]-p0[1])/6,c2x=p2[0]-(p3[0]-p1[0])/6,c2y=p2[1]-(p3[1]-p1[1])/6;
    d += 'C'+c1x.toFixed(1)+' '+c1y.toFixed(1)+' '+c2x.toFixed(1)+' '+c2y.toFixed(1)+' '+p2[0].toFixed(1)+' '+p2[1].toFixed(1);
  }
  return d;
}
function poly(pts){ return 'M' + pts.map(p=>p[0].toFixed(1)+' '+p[1].toFixed(1)).join('L'); }

// ---------- Panel A drawing ----------
function proj(t){ return t*1.338/(1+0.338*t); }
function aBaseY(t){ return 872 - 491*proj(t); }
function aX(w,t){ const p=proj(t); return 311 + 408*p + (w-626)*(0.5056-0.1374*p); }
function aY(v,t){ return aBaseY(t) - v*0.1305; }
function aAxisX(w){ return 298 + (w-600)*0.5056; }
function aAxisY(v){ return 931 - v*0.1307; }
const aStack = [
  {vals:aConc1e6,color:'#f03238',name:'series-1e6'},
  {vals:aConc1e5,color:'#2a18e8',name:'series-1e5'},
  {vals:aConc1e4,color:'#28e828',name:'series-1e4'},
  {vals:aConc1e3,color:'#ee8420',name:'series-1e3'},
  {vals:aConc100,color:'#22eaee',name:'series-100'},
  {vals:aConc10,color:'#2a8a34',name:'series-10'},
  {vals:aConc0,color:'#3c3c3c',name:'series-0'}
];
const aBands = document.getElementById('aBands');
const aSeriesG = document.getElementById('aSeries');
aStack.forEach((s,i)=>{
  const t=i/6, y=aBaseY(t);
  const band = mk('polygon',aBands);
  
  
  const lx=y2=>200+(943-y2)*0.854, rx=y2=>1007+(943-y2)*0.43;
  band.setAttribute('points',[[lx(y),y],[rx(y),y],[rx(y+11),y+11],[lx(y+11),y+11]].map(p=>p.join(',')).join(' '));
  band.setAttribute('fill','#fff');
});
aStack.slice().reverse().forEach((s,ri)=>{
  const i=6-ri,t=i/6;
  const line = mk('path',aSeriesG);
  
  
  line.setAttribute('d',poly(aWavenumbers.map((w,k)=>[aX(w,t),aY(s.vals[k],t)])));
  line.setAttribute('fill','none');
  line.setAttribute('stroke',s.color);
  line.setAttribute('stroke-width','4');
  line.setAttribute('stroke-linejoin','round');
});
const aAxes = document.getElementById('aAxes');
aYTicks.forEach(v=>{
  const tick = mk('path',aAxes);
  
  
  tick.setAttribute('d','M186 '+aAxisY(v)+'H200');
  tick.setAttribute('stroke','#333');
  tick.setAttribute('stroke-width','3');
  const lab = mk('text',aAxes);
  
  
  lab.setAttribute('class','sb');
  lab.setAttribute('x','174');
  lab.setAttribute('y',aAxisY(v)+14);
  lab.setAttribute('font-size','38');
  lab.setAttribute('text-anchor','end');
  lab.textContent=String(v);
});
aXTicks.forEach(w=>{
  const tick = mk('path',aAxes);
  
  
  tick.setAttribute('d','M'+aAxisX(w)+' 943v12');
  tick.setAttribute('stroke','#333');
  tick.setAttribute('stroke-width','3');
  const lab = mk('text',aAxes);
  
  
  lab.setAttribute('class','sb');
  lab.setAttribute('x',aAxisX(w));
  lab.setAttribute('y','1005');
  lab.setAttribute('font-size','38');
  lab.setAttribute('text-anchor','middle');
  lab.textContent=String(w);
});

// ---------- Panels C and D drawing ----------
function drawSpec(cfg){
  const x = w => cfg.x0 + (w-1350)*cfg.k;
  const y = v => 1919 - v*0.6378;
  cfg.series.forEach(s=>{
    const line = mk('path',cfg.g);
    
    
    line.setAttribute('d',smooth(cfg.wn.map((w,i)=>[x(w),y(s.vals[i])])));
    line.setAttribute('fill','none');
    line.setAttribute('stroke',s.color);
    line.setAttribute('stroke-width','4.6');
  });
  specTickLabels.forEach(w=>{
    const tick = mk('path',cfg.axis);
    
    
    tick.setAttribute('d','M'+x(w)+' 1919v12');
    tick.setAttribute('stroke','#111');
    tick.setAttribute('stroke-width','3');
    const lab = mk('text',cfg.axis);
    
    
    lab.setAttribute('class','s');
    lab.setAttribute('x',x(w));
    lab.setAttribute('y',cfg.tickY);
    lab.setAttribute('font-size','52');
    lab.setAttribute('text-anchor','middle');
    lab.textContent=String(w);
  });
  specMinorTicks.forEach(w=>{
    const tick = mk('path',cfg.axis);
    
    
    tick.setAttribute('d','M'+x(w)+' 1919v7');
    tick.setAttribute('stroke','#111');
    tick.setAttribute('stroke-width','3');
  });
}
drawSpec({g:document.getElementById('cSeries'),axis:document.getElementById('cAxis'),x0:302.5,k:2.296,tickY:1976,wn:cWavenumbers,series:[
  {vals:cGray,color:'#5c5c5c',name:'series-2-5'},
  {vals:cRed,color:'#f04848',name:'series-0-0375'},
  {vals:cBlue,color:'#0a78e8',name:'series-0-0125'},
  {vals:cGreen,color:'#10a868',name:'series-2-5e-3'},
  {vals:cPurple,color:'#b878e0',name:'series-2-5e-4'},
  {vals:cGold,color:'#d89a10',name:'series-5e-5'}
]});
drawSpec({g:document.getElementById('dSeries'),axis:document.getElementById('dAxis'),x0:1781,k:2.373,tickY:1978,wn:dWavenumbers,series:[
  {vals:dGray,color:'#5c5c5c',name:'series-0-50'},
  {vals:dRed,color:'#f04848',name:'series-0-25'},
  {vals:dBlue,color:'#0a78e8',name:'series-0-0375'},
  {vals:dGreen,color:'#10a868',name:'series-0-025'},
  {vals:dPurple,color:'#b878e0',name:'series-0-0125'},
  {vals:dGold,color:'#d89a10',name:'series-0-00375'}
]});

// ---------- Panel E strip photos ----------
const tileEdges=[441,679,933,1184,1434,1685,1931,2178,2428];
const tileFills=['#e4e4e1','#e2e2df','#e4e4e1','#e1e1de','#e5e5e2','#e0e0dd','#d9d9d6','#d3d3d1'];
const stripCx=[550,798,1049,1308,1562,1797,2045,2287];
const stripTop=[2348,2343,2342,2340,2333,2333,2322,2321];
const stripBot=[2563,2547,2549,2537,2545,2545,2539,2537];
const cLineY=[2395,2390,2389,2385,2381,2379,2371,2369];
const tLineY=[2467,2458,2459,2450,0,0,0,0];
const eG=document.getElementById('eTiles');
tileFills.forEach((f,i)=>{
  const tile=mk('rect',eG);
  
  
  tile.setAttribute('x',tileEdges[i]);
  tile.setAttribute('y','2251');
  tile.setAttribute('width',tileEdges[i+1]-tileEdges[i]-2);
  tile.setAttribute('height','380');
  tile.setAttribute('fill',f);
  const shade=mk('rect',eG);
  
  
  shade.setAttribute('x',tileEdges[i]);
  shade.setAttribute('y','2251');
  shade.setAttribute('width',tileEdges[i+1]-tileEdges[i]-2);
  shade.setAttribute('height','380');
  shade.setAttribute('fill','url(#tileShade)');
  const halo=mk('rect',eG);
  
  
  halo.setAttribute('x',stripCx[i]-56);
  halo.setAttribute('y',stripTop[i]-24);
  halo.setAttribute('width','118');
  halo.setAttribute('height',stripBot[i]-stripTop[i]+54);
  halo.setAttribute('rx','36');
  halo.setAttribute('fill','#ebebe8');
  halo.setAttribute('filter','url(#b5)');
  const light=mk('rect',eG);
  
  
  light.setAttribute('x',stripCx[i]+28);
  light.setAttribute('y',stripTop[i]-10);
  light.setAttribute('width','32');
  light.setAttribute('height',stripBot[i]-stripTop[i]+20);
  light.setAttribute('rx','14');
  light.setAttribute('fill','#f8f8f8');
  light.setAttribute('filter','url(#b5)');
  const strip=mk('rect',eG);
  
  
  strip.setAttribute('x',stripCx[i]-29);
  strip.setAttribute('y',stripTop[i]);
  strip.setAttribute('width','58');
  strip.setAttribute('height',stripBot[i]-stripTop[i]);
  strip.setAttribute('rx','20');
  strip.setAttribute('fill','#ebe8de');
  strip.setAttribute('stroke','#ddd3bd');
  strip.setAttribute('stroke-width','1.5');
  const cl=mk('rect',eG);
  
  
  cl.setAttribute('x',stripCx[i]-29);
  cl.setAttribute('y',cLineY[i]-4);
  cl.setAttribute('width','58');
  cl.setAttribute('height','8');
  cl.setAttribute('fill','#e0b678');
  if(tLineY[i]){
    const tl=mk('rect',eG);
    
    
    tl.setAttribute('x',stripCx[i]-29);
    tl.setAttribute('y',tLineY[i]-4);
    tl.setAttribute('width','58');
    tl.setAttribute('height','8');
    tl.setAttribute('fill','#ead0ac');
  }
});

// ---------- Panel G silicon structures ----------
const etched=document.getElementById('etched');
for(let i=0;i<8;i++){
  const l=792.4+i*45.4;
  const slit=mk('polygon',etched);
  
  
  slit.setAttribute('points',[[l,3534],[l+23,3534],[l+23,3687],[l+12,3730],[l,3687]].map(p=>p.join(',')).join(' '));
  slit.setAttribute('fill','#fff');
}
const sput=document.getElementById('sputtered');
const wobble=[3,-2,2,-3,2,-1,3,-2];
for(let i=0;i<8;i++){
  const c=1510+i*45.5, w=wobble[i];
  const halo=mk('polygon',sput);
  
  
  halo.setAttribute('points',[[c-13,3540],[c+13,3540],[c+12+w,3600],[c+14,3660],[c+11-w,3700],[c+1,3732],[c-11,3700],[c-13+w,3650],[c-14,3600]].map(p=>p.join(',')).join(' '));
  halo.setAttribute('fill','#cfcfcf');
  const core=mk('polygon',sput);
  
  
  core.setAttribute('points',[[c-7,3546],[c+6,3546],[c+7+w,3600],[c+7,3660],[c+5-w,3695],[c+1,3718],[c-5,3695],[c-7+w,3650],[c-8,3600]].map(p=>p.join(',')).join(' '));
  core.setAttribute('fill','#fff');
}
const cap=mk('path',sput);


cap.setAttribute('d','M1478 3532L1500 3532 1531 3530 1560 3534 1600 3530 1640 3528 1680 3532 1720 3530 1760 3534 1800 3530 1840 3533 1866 3530V3540L1840 3544 1800 3542 1760 3546 1720 3542 1680 3548 1640 3544 1600 3548 1560 3543 1531 3548 1500 3546 1478 3540Z');
cap.setAttribute('fill','#d2d2d2');

// ---------- Panel G Raman chart ----------
const gg=document.getElementById('gChart');
function gX(w){ return 1664+(w-400)*1.228; }
function gY(v){ return 4333-v*0.03883; }
const gAxis=mk('path',gg);


gAxis.setAttribute('d','M'+gX(400)+' '+gY(12000)+'V4335H'+gX(900));
gAxis.setAttribute('fill','none');
gAxis.setAttribute('stroke','#333');
gAxis.setAttribute('stroke-width','3');
gXTicks.forEach(w=>{
  const tick=mk('path',gg);
  
  
  tick.setAttribute('d','M'+gX(w)+' 4335v10');
  tick.setAttribute('stroke','#333');
  tick.setAttribute('stroke-width','2.5');
  const lab=mk('text',gg);
  
  
  lab.setAttribute('class','r');
  lab.setAttribute('x',gX(w));
  lab.setAttribute('y','4372');
  lab.setAttribute('font-size','30');
  lab.setAttribute('text-anchor','middle');
  lab.textContent=String(w);
});
gYTicks.forEach((v,i)=>{
  const tick=mk('path',gg);
  
  
  tick.setAttribute('d','M'+(gX(400)-9)+' '+gY(v)+'h9');
  tick.setAttribute('stroke','#333');
  tick.setAttribute('stroke-width','2.5');
  const lab=mk('text',gg);
  
  
  lab.setAttribute('class','r');
  lab.setAttribute('x','1651');
  lab.setAttribute('y',gY(v)+10);
  lab.setAttribute('font-size','30');
  lab.setAttribute('text-anchor','end');
  lab.textContent=gYTickLabels[i];
});
const gLine=mk('path',gg);


gLine.setAttribute('d',poly(gShift.map((w,i)=>[gX(w),gY(gIntensity[i])])));
gLine.setAttribute('fill','none');
gLine.setAttribute('stroke','#222');
gLine.setAttribute('stroke-width','3');
gLine.setAttribute('stroke-linejoin','round');
</script>
</body>
</html>
